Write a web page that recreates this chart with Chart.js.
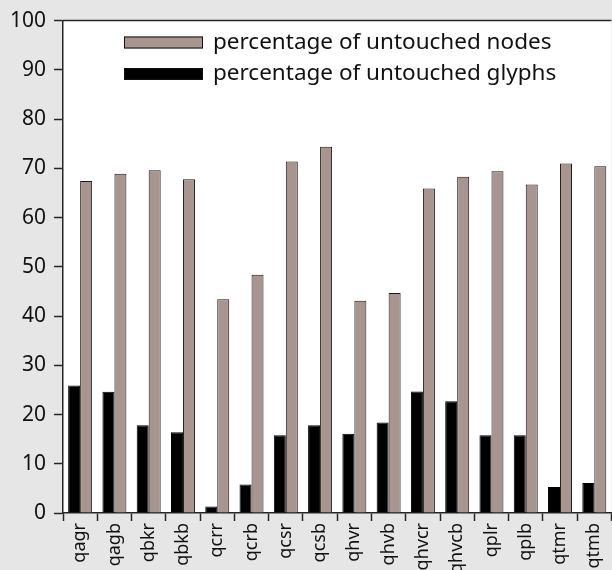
<!DOCTYPE html>
<html lang="en">
    <head>
        <meta charset="UTF-8" />
        <title>Untouched nodes and glyphs</title>
        <style>
            html,
            body {
                margin: 0;
                padding: 0;
                background: #e6e6e6;
                overflow: hidden;
            }
            .chart-box {
                position: relative;
                width: 618px;
                height: 570px;
            }
        </style>
    </head>
    <body>
        <div class="chart-box">
            <canvas id="chart"></canvas>
        </div>

        <script src="https://cdn.jsdelivr.net/npm/chart.js"></script>
        <script>
            // data
            const categories = [
                "qagr", "qagb", "qbkr", "qbkb", "qcrr", "qcrb", "qcsr", "qcsb",
                "qhvr", "qhvb", "qhvcr", "qhvcb", "qplr", "qplb", "qtmr", "qtmb",
            ]
            const untouchedGlyphs = [
                25.9, 24.6, 17.8, 16.4, 1.3, 5.8, 15.8, 17.8,
                16.1, 18.4, 24.7, 22.7, 15.8, 15.8, 5.3, 6.1,
            ]
            const untouchedNodes = [
                67.4, 68.9, 69.6, 67.8, 43.4, 48.4, 71.4, 74.4,
                43.1, 44.7, 65.9, 68.3, 69.4, 66.7, 71.0, 70.4,
            ]
            const yTicks = [0, 10, 20, 30, 40, 50, 60, 70, 80, 90, 100]
            const legendLabels = [
                "percentage of untouched nodes",
                "percentage of untouched glyphs",
            ]

            const FONT = "'Noto Sans', 'DejaVu Sans', sans-serif"
            const AXIS = "#262626"
            const BROWN = "#a89590"

            // white plot area + top frame line
            const plotFrame = {
                id: "plotFrame",
                beforeDraw(chart) {
                    const { ctx, chartArea: a } = chart
                    ctx.save()
                    ctx.fillStyle = "#ffffff"
                    ctx.fillRect(a.left, a.top, a.right - a.left, a.bottom - a.top)
                    ctx.restore()
                },
                afterDraw(chart) {
                    const { ctx, chartArea: a } = chart
                    ctx.save()
                    ctx.strokeStyle = AXIS
                    ctx.lineWidth = 1.5
                    ctx.beginPath()
                    ctx.moveTo(a.left, a.top)
                    ctx.lineTo(a.right, a.top)
                    ctx.stroke()
                    ctx.restore()
                },
            }

            // legend drawn inside the plot, nodes row first
            const insideLegend = {
                id: "insideLegend",
                afterDraw(chart) {
                    const { ctx } = chart
                    const rows = [
                        { text: legendLabels[0], ds: chart.data.datasets[1] },
                        { text: legendLabels[1], ds: chart.data.datasets[0] },
                    ]
                    ctx.save()
                    ctx.font = "22.5px " + FONT
                    ctx.textBaseline = "middle"
                    rows.forEach((r, i) => {
                        const cy = 42.5 + i * 31.5
                        ctx.fillStyle = r.ds.backgroundColor
                        ctx.fillRect(124, cy - 6, 79, 12)
                        ctx.strokeStyle = "#111"
                        ctx.lineWidth = 1
                        ctx.strokeRect(124.5, cy - 5.5, 78, 11)
                        ctx.fillStyle = "#111"
                        ctx.fillText(r.text, 213, cy)
                    })
                    ctx.restore()
                },
            }

            const ctx = document.getElementById("chart").getContext("2d")
            new Chart(ctx, {
                type: "bar",
                data: {
                    labels: categories,
                    datasets: [
                        {
                            label: legendLabels[1],
                            data: untouchedGlyphs,
                            backgroundColor: "#000000",
                            borderColor: "#000000",
                            borderWidth: 1,
                        },
                        {
                            label: legendLabels[0],
                            data: untouchedNodes,
                            backgroundColor: BROWN,
                            borderColor: "#1a1a1a",
                            borderWidth: 1,
                        },
                    ],
                },
                options: {
                    responsive: true,
                    maintainAspectRatio: false,
                    animation: false,
                    layout: {
                        padding: { top: 17, right: 3, left: 0, bottom: 0 },
                    },
                    datasets: {
                        bar: {
                            categoryPercentage: 0.7,
                            barPercentage: 1,
                        },
                    },
                    plugins: {
                        legend: { display: false },
                        tooltip: { enabled: false },
                    },
                    scales: {
                        x: {
                            offset: true,
                            grid: {
                                offset: true,
                                drawOnChartArea: false,
                                drawTicks: true,
                                tickLength: 8,
                                tickWidth: 1.5,
                                tickColor: AXIS,
                            },
                            border: { color: AXIS, width: 1.5 },
                            ticks: {
                                minRotation: 90,
                                maxRotation: 90,
                                autoSkip: false,
                                padding: 2,
                                color: "#111",
                                font: { family: FONT, size: 18 },
                            },
                            afterFit(scale) {
                                scale.height = 57
                            },
                        },
                        y: {
                            min: 0,
                            max: 100,
                            afterBuildTicks(scale) {
                                scale.ticks = yTicks.map((v) => ({ value: v }))
                            },
                            grid: {
                                drawOnChartArea: false,
                                drawTicks: true,
                                tickLength: 9,
                                tickWidth: 1.5,
                                tickColor: AXIS,
                            },
                            border: { color: AXIS, width: 1.5 },
                            ticks: {
                                padding: 8,
                                color: "#111",
                                font: { family: FONT, size: 21 },
                            },
                            afterFit(scale) {
                                scale.width = 63
                            },
                        },
                    },
                },
                plugins: [plotFrame, insideLegend],
            })
        </script>
    </body>
</html>
